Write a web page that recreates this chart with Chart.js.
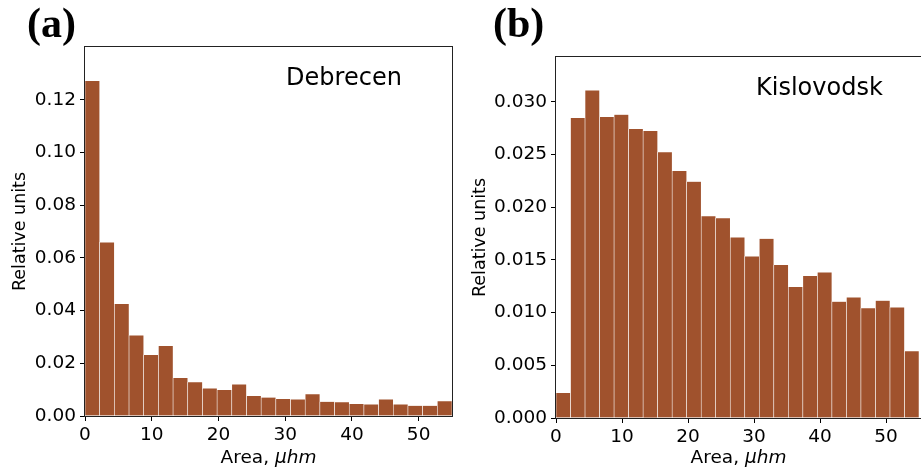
<!DOCTYPE html>
<html>
<head>
<meta charset="utf-8">
<script src="https://cdn.jsdelivr.net/npm/chart.js@4.4.1/dist/chart.umd.min.js"></script>
<style>
  body { margin: 0; background: #fff; }
  .panel { position: absolute; top: 0; height: 470px; }
  #panelA { left: 0; width: 465px; }
  #panelB { left: 466px; width: 455px; }
</style>
</head>
<body>
<div class="panel" id="panelA"><canvas id="chartA"></canvas></div>
<div class="panel" id="panelB"><canvas id="chartB"></canvas></div>
<script>
// bin centres, bins are 2.2 wide from 0 to 55
const binCenters = [1.1, 3.3, 5.5, 7.7, 9.9, 12.1, 14.3, 16.5, 18.7, 20.9, 23.1, 25.3, 27.5,
    29.7, 31.9, 34.1, 36.3, 38.5, 40.7, 42.9, 45.1, 47.3, 49.5, 51.7, 53.9];

const debrecenValues = [0.1271, 0.0659, 0.0425, 0.0306, 0.0232, 0.0266, 0.0144, 0.0128, 0.0105,
    0.0099, 0.0120, 0.0076, 0.0070, 0.0065, 0.0063, 0.0083, 0.0054, 0.0052, 0.0046, 0.0044,
    0.0063, 0.0044, 0.0039, 0.0039, 0.0056];

const kislovodskValues = [0.00237, 0.02846, 0.03109, 0.02856, 0.02878, 0.02742, 0.02723, 0.02521,
    0.02344, 0.02242, 0.01914, 0.01895, 0.01714, 0.01534, 0.01701, 0.01452, 0.01243, 0.01347,
    0.01382, 0.01104, 0.01145, 0.01041, 0.01113, 0.01050, 0.00633];

const xTicks = [0, 10, 20, 30, 40, 50];
const debrecenTicks = [0, 0.02, 0.04, 0.06, 0.08, 0.10, 0.12];
const kislovodskTicks = [0, 0.005, 0.010, 0.015, 0.020, 0.025, 0.030];

const barColor = '#A0522D';
const fontFamily = "'DejaVu Sans', sans-serif";

// draws the frame, the station name, axis titles and the panel letter
const panelDecor = {
    id: 'panelDecor',
    afterDraw(chart, args, opts) {
        const ctx = chart.ctx;
        const a = chart.chartArea;
        ctx.save();
        ctx.strokeStyle = '#222';
        ctx.lineWidth = 1;
        ctx.strokeRect(Math.round(a.left) - 0.5, Math.round(a.top) - 0.5,
            Math.round(a.right - a.left) + 1, Math.round(a.bottom - a.top) + 1);

        ctx.fillStyle = '#000';
        ctx.textBaseline = 'alphabetic';

        // station name inside the plot
        ctx.font = '24px ' + fontFamily;
        ctx.textAlign = 'left';
        ctx.fillText(opts.name, a.left + 0.548 * (a.right - a.left), a.top + 38);

        // x title: "Area, " + italic "μhm"
        ctx.font = '18.5px ' + fontFamily;
        const w1 = ctx.measureText('Area, ').width;
        ctx.font = 'italic 18.5px ' + fontFamily;
        const w2 = ctx.measureText('μhm').width;
        let x0 = (a.left + a.right) / 2 - (w1 + w2) / 2;
        ctx.font = '18.5px ' + fontFamily;
        ctx.fillText('Area, ', x0, 463);
        ctx.font = 'italic 18.5px ' + fontFamily;
        ctx.fillText('μhm', x0 + w1, 463);

        // y title
        ctx.save();
        ctx.translate(opts.yTitleX, (a.top + a.bottom) / 2);
        ctx.rotate(-Math.PI / 2);
        ctx.textAlign = 'center';
        ctx.textBaseline = 'middle';
        ctx.font = '17.5px ' + fontFamily;
        ctx.fillText('Relative units', 0, 0);
        ctx.restore();

        // panel letter
        ctx.font = "bold 42px 'Liberation Serif', serif";
        ctx.textAlign = 'left';
        ctx.fillText(opts.letter, 27, 37);
        ctx.restore();
    }
};

const makePanel = (canvasId, values, yTicks, yMax, xMax, decimals, yWidth, xHeight, pad, name, letter, yTitleX) => {
    const points = binCenters.map((x, i) => ({ x: x, y: values[i] }));
    return new Chart(document.getElementById(canvasId), {
        type: 'bar',
        data: {
            datasets: [{
                data: points,
                backgroundColor: barColor,
                borderColor: '#ffffff',
                borderWidth: { left: 0.6, right: 0.6, top: 0.4, bottom: 0 },
                borderSkipped: false,
                barPercentage: 1,
                categoryPercentage: 1
            }]
        },
        options: {
            responsive: true,
            maintainAspectRatio: false,
            animation: false,
            layout: { padding: pad },
            plugins: {
                legend: { display: false },
                tooltip: { enabled: false },
                panelDecor: { name: name, letter: letter, yTitleX: yTitleX }
            },
            scales: {
                x: {
                    type: 'linear',
                    min: 0,
                    max: xMax,
                    offset: false,
                    afterBuildTicks: (scale) => {
                        scale.ticks = xTicks.map(v => ({ value: v }));
                    },
                    afterFit: (scale) => { scale.height = xHeight; },
                    ticks: {
                        color: '#000',
                        padding: 3,
                        maxRotation: 0,
                        font: { family: fontFamily, size: 18.5 },
                        callback: (v) => String(v)
                    },
                    grid: { offset: false, drawOnChartArea: false, drawTicks: true, tickLength: 5, tickColor: '#000' },
                    border: { display: false }
                },
                y: {
                    min: 0,
                    max: yMax,
                    afterBuildTicks: (scale) => {
                        scale.ticks = yTicks.map(v => ({ value: v }));
                    },
                    afterFit: (scale) => { scale.width = yWidth; },
                    ticks: {
                        color: '#000',
                        padding: 4,
                        font: { family: fontFamily, size: 18.5 },
                        callback: (v) => Number(v).toFixed(decimals)
                    },
                    grid: { drawOnChartArea: false, drawTicks: true, tickLength: 5, tickColor: '#000' },
                    border: { display: false }
                }
            }
        },
        plugins: [panelDecor]
    });
}

makePanel('chartA', debrecenValues, debrecenTicks, 0.140, 55, 2, 85, 54,
    { top: 47, right: 13, left: 0, bottom: 0 }, 'Debrecen', '(a)', 20);
makePanel('chartB', kislovodskValues, kislovodskTicks, 0.03425, 55.3, 3, 90, 52,
    { top: 57, right: 0, left: 0, bottom: 0 }, 'Kislovodsk', '(b)', 14);
</script>
</body>
</html>
